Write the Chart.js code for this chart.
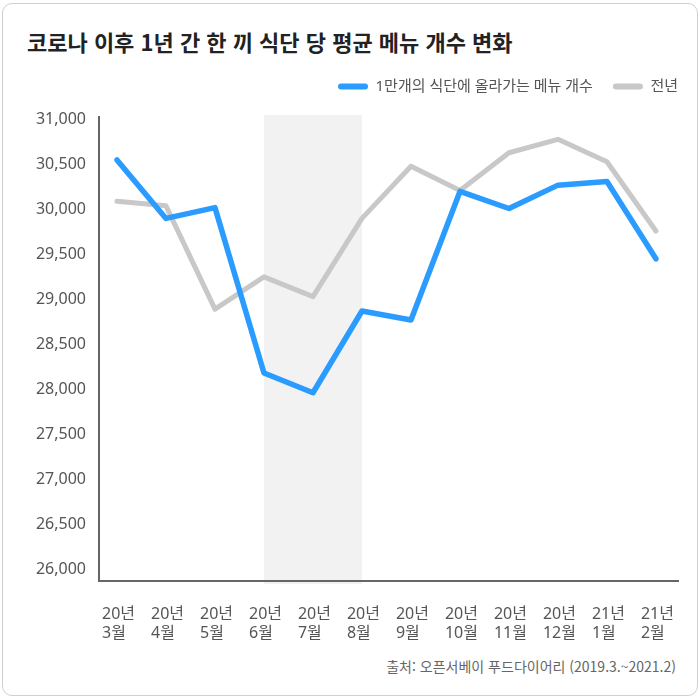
<!DOCTYPE html>
<html lang="ko">
<head>
<meta charset="utf-8">
<script src="https://cdn.jsdelivr.net/npm/chart.js@4.4.1/dist/chart.umd.min.js"></script>
<style>
  body { margin: 0; background: #fff; font-family: "Noto Sans CJK KR", sans-serif; }
  .card {
    position: absolute; left: 2px; top: 3px; width: 696px; height: 693px;
    box-sizing: border-box; border: 1px solid #cfcfcf; border-radius: 10px;
  }
  .title {
    position: absolute; left: 27px; top: 27px; margin: 0;
    font-size: 22px; font-weight: 700; line-height: 28px; color: #222;
  }
  .wrap { position: absolute; left: 0; top: 0; width: 700px; height: 650px; }
  .source {
    position: absolute; right: 24px; top: 656px;
    font-size: 14px; line-height: 20px; color: #666;
  }
</style>
</head>
<body>
<div class="card"></div>
<h1 class="title">코로나 이후 1년 간 한 끼 식단 당 평균 메뉴 개수 변화</h1>
<div class="wrap"><canvas id="myChart"></canvas></div>
<div class="source">출처: 오픈서베이 푸드다이어리 (2019.3.~2021.2)</div>

<script>
// categories (two-line x labels)
const yearLabels = ["20년", "20년", "20년", "20년", "20년", "20년", "20년", "20년", "20년", "20년", "21년", "21년"];
const monthLabels = ["3월", "4월", "5월", "6월", "7월", "8월", "9월", "10월", "11월", "12월", "1월", "2월"];

// series values
const menuCount = [30550, 29900, 30020, 28180, 27960, 28870, 28770, 30200, 30010, 30270, 30310, 29450];
const lastYear = [30090, 30040, 28890, 29250, 29030, 29900, 30480, 30210, 30630, 30780, 30530, 29760];

// y tick labels
const yTicks = [26000, 26500, 27000, 27500, 28000, 28500, 29000, 29500, 30000, 30500, 31000];

// shaded period (6월 ~ 8월)
const bandFrom = 3;
const bandTo = 5;

const blue = "#2a9bff";
const grey = "#c8c8c8";
const tickFont = "'Noto Sans', 'Noto Sans CJK KR', sans-serif";

// light grey band behind the lines
const bandPlugin = {
    id: "band",
    beforeDraw(chart) {
        const { ctx, chartArea, scales } = chart;
        const x0 = scales.x.getPixelForValue(bandFrom);
        const x1 = scales.x.getPixelForValue(bandTo);
        ctx.save();
        ctx.fillStyle = "#f2f2f2";
        ctx.fillRect(x0, chartArea.top - 2, x1 - x0, chartArea.bottom - chartArea.top + 5);
        ctx.restore();
    },
};

// fixed legend height, and legend pushed to the right edge
const legendPlugin = {
    id: "legendFix",
    beforeInit(chart) {
        const fit = chart.legend.fit;
        chart.legend.fit = function () {
            fit.bind(chart.legend)();
            this.height = 58;
        };
    },
    afterLayout(chart) {
        chart.legend.left += 20;
        chart.legend.right += 20;
    },
};

const data = {
    datasets: [
        {
            label: "1만개의 식단에 올라가는 메뉴 개수",
            data: menuCount.map((v, i) => ({ x: i, y: v })),
            borderColor: blue,
            backgroundColor: blue,
            borderWidth: 5.5,
            borderCapStyle: "round",
            borderJoinStyle: "round",
            pointRadius: 0,
            tension: 0,
        },
        {
            label: "전년",
            data: lastYear.map((v, i) => ({ x: i, y: v })),
            borderColor: grey,
            backgroundColor: grey,
            borderWidth: 5,
            borderCapStyle: "round",
            borderJoinStyle: "round",
            pointRadius: 0,
            tension: 0,
        },
    ],
};

const config = {
    type: "line",
    data: data,
    options: {
        responsive: true,
        maintainAspectRatio: false,
        animation: false,
        layout: { padding: { top: 59, left: 0, right: 22, bottom: 7 } },
        scales: {
            x: {
                type: "linear",
                min: -0.367,
                max: 11.45,
                grid: { display: false, drawTicks: false },
                border: { display: true, color: "#666", width: 2 },
                afterBuildTicks: (scale) => {
                    scale.ticks = monthLabels.map((_, i) => ({ value: i }));
                },
                afterFit: (scale) => {
                    scale.paddingLeft = 0;
                    scale.paddingRight = 0;
                    scale.height = 62;
                },
                ticks: {
                    align: "start",
                    labelOffset: -15,
                    padding: 24,
                    color: "#555",
                    font: { family: tickFont, size: 16, lineHeight: 1.2 },
                    callback: (value) => [yearLabels[value], monthLabels[value]],
                },
            },
            y: {
                min: 25866,
                max: 31028,
                grid: { display: false, drawTicks: false },
                border: { display: true, color: "#666", width: 2 },
                afterBuildTicks: (scale) => {
                    scale.ticks = yTicks.map((v) => ({ value: v }));
                },
                afterFit: (scale) => {
                    scale.width = 99;
                },
                ticks: {
                    padding: 13,
                    color: "#555",
                    font: { family: tickFont, size: 16 },
                    callback: (value) => value.toLocaleString("en-US"),
                },
            },
        },
        plugins: {
            legend: {
                position: "top",
                align: "end",
                labels: {
                    boxWidth: 30,
                    boxHeight: 6,
                    useBorderRadius: true,
                    borderRadius: 3,
                    padding: 20,
                    color: "#555",
                    font: { family: tickFont, size: 15 },
                    generateLabels: (chart) =>
                        Chart.defaults.plugins.legend.labels
                            .generateLabels(chart)
                            .map((item) => ({ ...item, lineWidth: 0 })),
                },
            },
            tooltip: { enabled: false },
        },
    },
    plugins: [bandPlugin, legendPlugin],
};

const myChart = new Chart(document.getElementById("myChart"), config);
</script>
</body>
</html>
